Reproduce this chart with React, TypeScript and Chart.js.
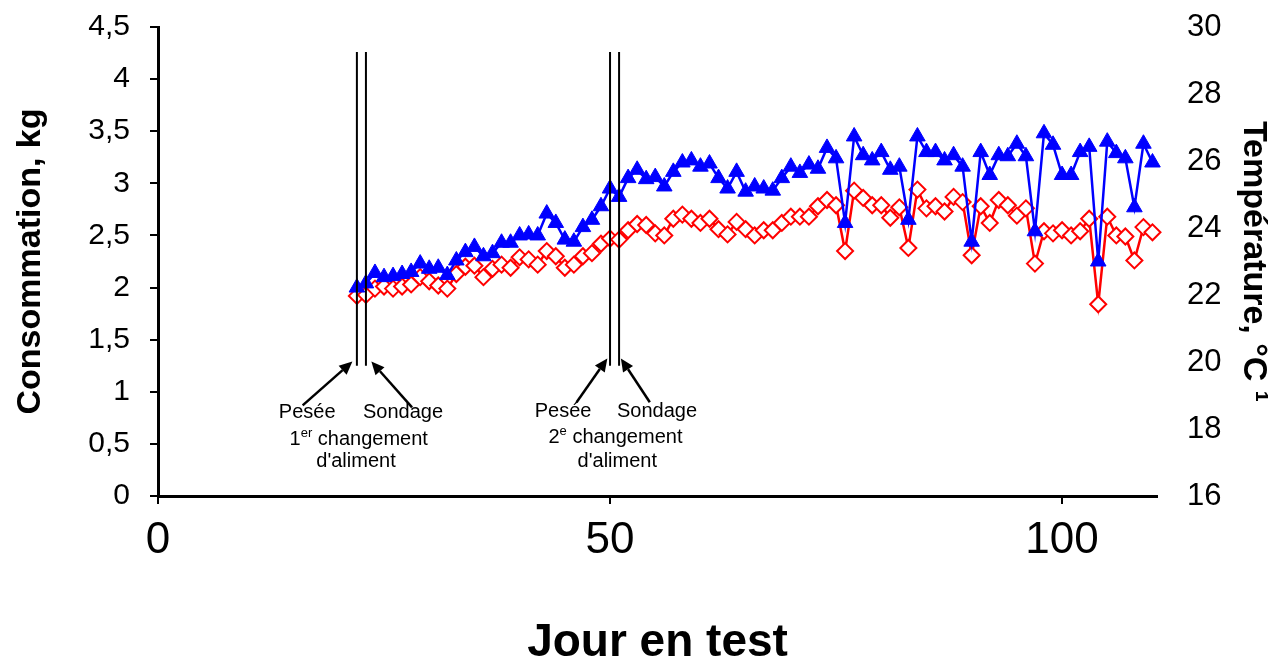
import { useEffect, useRef } from 'react';
import { Chart, registerables } from 'chart.js';

Chart.register(...registerables);

const FONT = '"Liberation Sans", Arial, Helvetica, sans-serif';

// Day of test for the first measurement; one measurement per day
const firstDay = 22;

// Blue series (triangles), kg
const consoBlue = [
  2.00, 2.04, 2.14, 2.10, 2.11, 2.13, 2.15, 2.23, 2.18, 2.19,
  2.12, 2.26, 2.34, 2.39, 2.30, 2.33, 2.43, 2.43, 2.50, 2.51,
  2.50, 2.71, 2.62, 2.46, 2.44, 2.58, 2.65, 2.78, 2.95, 2.87,
  3.05, 3.13, 3.04, 3.06, 2.97, 3.11, 3.20, 3.22, 3.16, 3.19,
  3.05, 2.95, 3.11, 2.92, 2.97, 2.95, 2.93, 3.05, 3.16, 3.10,
  3.18, 3.14, 3.34, 3.24, 2.62, 3.45, 3.27, 3.22, 3.30, 3.13,
  3.16, 2.65, 3.45, 3.30, 3.30, 3.22, 3.27, 3.16, 2.44, 3.30,
  3.08, 3.27, 3.26, 3.38, 3.26, 2.54, 3.48, 3.37, 3.08, 3.08,
  3.30, 3.35, 2.25, 3.40, 3.29, 3.24, 2.77, 3.38, 3.20,
];

// Red series (open diamonds), kg
const consoRed = [
  1.92, 1.93, 1.99, 2.01, 1.99, 2.01, 2.03, 2.10, 2.06, 2.02,
  1.99, 2.13, 2.20, 2.21, 2.10, 2.18, 2.22, 2.19, 2.29, 2.27,
  2.22, 2.35, 2.30, 2.19, 2.22, 2.30, 2.33, 2.42, 2.47, 2.46,
  2.55, 2.61, 2.60, 2.52, 2.50, 2.66, 2.70, 2.66, 2.62, 2.66,
  2.56, 2.51, 2.63, 2.56, 2.50, 2.55, 2.55, 2.62, 2.68, 2.68,
  2.68, 2.78, 2.84, 2.79, 2.35, 2.93, 2.86, 2.79, 2.79, 2.67,
  2.77, 2.38, 2.94, 2.76, 2.78, 2.73, 2.87, 2.82, 2.31, 2.78,
  2.62, 2.84, 2.79, 2.69, 2.76, 2.23, 2.54, 2.52, 2.55, 2.50,
  2.54, 2.66, 1.84, 2.68, 2.50, 2.49, 2.26, 2.58, 2.53,
];

const xTickValues = [0, 50, 100];

// Event marker lines (days) and their vertical extent (kg)
const eventDays = [22, 23, 50, 51];
const eventLineFrom = 1.25;
const eventLineTo = 4.26;

// Arrows: [fromDay, fromKg, toDay, toKg]
const arrows = [
  [16.0, 0.87, 21.5, 1.29],
  [28.1, 0.85, 23.6, 1.29],
  [46.3, 0.90, 49.7, 1.32],
  [54.4, 0.90, 51.2, 1.32],
];

// Annotation texts: [day, kg, main, superscript, rest]
const notes: [number, number, string, string, string][] = [
  [16.5, 0.80, 'Pesée', '', ''],
  [27.1, 0.80, 'Sondage', '', ''],
  [22.2, 0.54, '1', 'er', ' changement'],
  [21.9, 0.33, "d'aliment", '', ''],
  [44.8, 0.81, 'Pesée', '', ''],
  [55.2, 0.81, 'Sondage', '', ''],
  [50.6, 0.56, '2', 'e', ' changement'],
  [50.8, 0.33, "d'aliment", '', ''],
];

const annotationPlugin = {
  id: 'annotations',
  afterDatasetsDraw(chart: any) {
    const { ctx } = chart;
    const x = chart.scales.x;
    const y = chart.scales.y;
    ctx.save();
    ctx.strokeStyle = '#000';
    ctx.fillStyle = '#000';
    ctx.lineWidth = 2;
    for (const d of eventDays) {
      const px = x.getPixelForValue(d);
      ctx.beginPath();
      ctx.moveTo(px, y.getPixelForValue(eventLineFrom));
      ctx.lineTo(px, y.getPixelForValue(eventLineTo));
      ctx.stroke();
    }
    for (const [d0, v0, d1, v1] of arrows) {
      const x0 = x.getPixelForValue(d0);
      const y0 = y.getPixelForValue(v0);
      const x1 = x.getPixelForValue(d1);
      const y1 = y.getPixelForValue(v1);
      const ang = Math.atan2(y1 - y0, x1 - x0);
      const head = 13;
      const half = 6;
      const bx = x1 - head * Math.cos(ang);
      const by = y1 - head * Math.sin(ang);
      ctx.lineWidth = 2.5;
      ctx.beginPath();
      ctx.moveTo(x0, y0);
      ctx.lineTo(bx, by);
      ctx.stroke();
      ctx.beginPath();
      ctx.moveTo(x1, y1);
      ctx.lineTo(bx + half * Math.sin(ang), by - half * Math.cos(ang));
      ctx.lineTo(bx - half * Math.sin(ang), by + half * Math.cos(ang));
      ctx.closePath();
      ctx.fill();
    }
    ctx.textBaseline = 'middle';
    ctx.textAlign = 'left';
    const mainFont = `20px ${FONT}`;
    const supFont = `13px ${FONT}`;
    for (const [d, v, main, sup, rest] of notes) {
      const cx = x.getPixelForValue(d);
      const cy = y.getPixelForValue(v);
      ctx.font = mainFont;
      const w1 = ctx.measureText(main).width;
      const w3 = ctx.measureText(rest).width;
      ctx.font = supFont;
      const w2 = sup ? ctx.measureText(sup).width : 0;
      let sx = cx - (w1 + w2 + w3) / 2;
      ctx.font = mainFont;
      ctx.fillText(main, sx, cy);
      sx += w1;
      if (sup) {
        ctx.font = supFont;
        ctx.fillText(sup, sx, cy - 6);
        sx += w2;
      }
      if (rest) {
        ctx.font = mainFont;
        ctx.fillText(rest, sx, cy);
      }
    }
    ctx.restore();
  },
};

export default function App() {
  const ref = useRef<HTMLCanvasElement | null>(null);

  useEffect(() => {
    if (!ref.current) return;
    const blue = consoBlue.map((v, i) => ({ x: firstDay + i, y: v }));
    const red = consoRed.map((v, i) => ({ x: firstDay + i, y: v }));
    const chart = new Chart(ref.current, {
      type: 'line',
      data: {
        datasets: [
          {
            data: blue,
            borderColor: '#0000FF',
            backgroundColor: '#0000FF',
            borderWidth: 2.5,
            pointStyle: 'triangle',
            pointRadius: 9,
            pointBackgroundColor: '#0000FF',
            pointBorderColor: '#0000FF',
            pointBorderWidth: 1,
            tension: 0,
            clip: false,
          },
          {
            data: red,
            borderColor: '#FF0000',
            backgroundColor: '#FFFFFF',
            borderWidth: 2.5,
            pointStyle: 'rectRot',
            pointRadius: 8,
            pointBackgroundColor: '#FFFFFF',
            pointBorderColor: '#FF0000',
            pointBorderWidth: 2,
            tension: 0,
            clip: false,
          },
        ],
      },
      options: {
        animation: false,
        responsive: true,
        maintainAspectRatio: false,
        layout: { padding: { top: 27, left: 0, right: 0, bottom: 0 } },
        plugins: {
          legend: { display: false },
          tooltip: { enabled: false },
        },
        scales: {
          x: {
            type: 'linear',
            min: 0,
            max: 110.5,
            afterBuildTicks: (s: any) => {
              s.ticks = xTickValues.map((v) => ({ value: v }));
            },
            afterFit: (s: any) => {
              s.height = 171;
            },
            border: { display: true, color: '#000', width: 3 },
            grid: {
              display: true,
              drawOnChartArea: false,
              drawTicks: true,
              tickLength: 8,
              color: '#000',
              lineWidth: 2,
            },
            ticks: {
              color: '#000',
              font: { family: FONT, size: 44 },
              padding: 10,
              maxRotation: 0,
              autoSkip: false,
            },
            title: {
              display: true,
              text: 'Jour en test',
              color: '#000',
              font: { family: FONT, size: 46, weight: 'bold' },
              padding: { top: 0, bottom: -4 },
            },
          },
          y: {
            position: 'left',
            min: 0,
            max: 4.5,
            afterFit: (s: any) => {
              s.width = 158;
              s.paddingTop = 0;
              s.paddingBottom = 0;
            },
            border: { display: true, color: '#000', width: 3 },
            grid: {
              display: true,
              drawOnChartArea: false,
              drawTicks: true,
              tickLength: 8,
              color: '#000',
              lineWidth: 2,
            },
            ticks: {
              stepSize: 0.5,
              color: '#000',
              font: { family: FONT, size: 30 },
              padding: 20,
              callback: (v: any) => String(v).replace('.', ','),
            },
            title: {
              display: true,
              text: 'Consommation, kg',
              color: '#000',
              font: { family: FONT, size: 34, weight: 'bold' },
              padding: { top: 10, bottom: 0 },
            },
          },
          y2: {
            position: 'right',
            min: 16,
            max: 30,
            afterFit: (s: any) => {
              s.width = 129;
              s.paddingTop = 0;
              s.paddingBottom = 0;
            },
            border: { display: false },
            grid: { display: false },
            ticks: {
              stepSize: 2,
              color: '#000',
              font: { family: FONT, size: 31 },
              padding: 22,
            },
            title: {
              display: true,
              text: 'Température, °C ¹',
              color: '#000',
              font: { family: FONT, size: 34, weight: 'bold' },
              padding: { top: 12, bottom: 0 },
            },
          },
        },
      },
      plugins: [annotationPlugin],
    });
    return () => chart.destroy();
  }, []);

  return (
    <div style={{ position: 'absolute', left: 0, top: 0, width: 1286, height: 667, background: '#fff' }}>
      <canvas ref={ref} />
    </div>
  );
}
